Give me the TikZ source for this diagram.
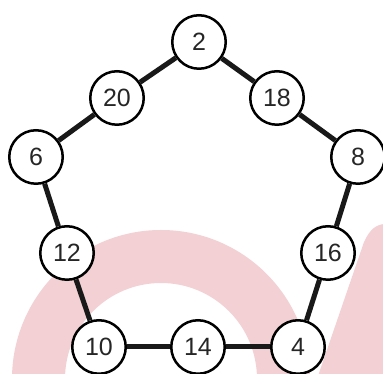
\documentclass[tikz,border=0pt]{standalone}
\usepackage{fontspec}
\setmainfont{Liberation Sans}
\begin{document}
\begin{tikzpicture}[x=1pt,y=1pt,
  vnode/.style={circle,draw=black,line width=2.5pt,fill=white,minimum size=53.5pt,inner sep=0pt,font=\fontsize{25}{25}\selectfont,text=black!85},
  link/.style={line width=5pt,draw=black!90}]
\definecolor{wm}{RGB}{242,208,211}
\useasboundingbox (0,0) rectangle (383,374);
\begin{scope}
\clip (0,0) rectangle (383,374);
\fill[wm,even odd rule] (161,-5) circle (149) (161,-5) circle (96);
\fill[wm] (318,-2) -- (364,132) .. controls (370,145) and (376,149) .. (384,150) -- (384,-2) -- cycle;
\end{scope}
\node[vnode] (n2) at (199,332) {2};
\node[vnode] (n20) at (117,276) {20};
\node[vnode] (n18) at (277,276) {18};
\node[vnode] (n6) at (36,217) {6};
\node[vnode] (n8) at (358,217) {8};
\node[vnode] (n12) at (67,121) {12};
\node[vnode] (n16) at (328,121) {16};
\node[vnode] (n10) at (99,27) {10};
\node[vnode] (n14) at (198,27) {14};
\node[vnode] (n4) at (298,27) {4};
\draw[link] (n2) -- (n20);
\draw[link] (n20) -- (n6);
\draw[link] (n6) -- (n12);
\draw[link] (n12) -- (n10);
\draw[link] (n10) -- (n14);
\draw[link] (n14) -- (n4);
\draw[link] (n4) -- (n16);
\draw[link] (n16) -- (n8);
\draw[link] (n8) -- (n18);
\draw[link] (n18) -- (n2);
\end{tikzpicture}
\end{document}
